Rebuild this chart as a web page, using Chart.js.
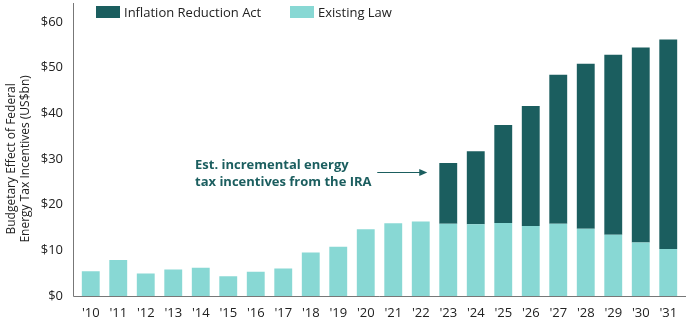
<!DOCTYPE html>
<html>
<head>
<meta charset="utf-8">
<script src="https://cdn.jsdelivr.net/npm/chart.js@4.4.1/dist/chart.umd.min.js"></script>
<style>
  html, body { margin: 0; padding: 0; background: #fff; }
  #wrap { position: relative; width: 690px; height: 321px; font-family: "Open Sans", sans-serif; }
  #c { position: absolute; left: 0; top: 0; }
  .legend { position: absolute; top: 3px; font-size: 13px; color: #222; display: flex; align-items: center; }
  .legend span.box { display: inline-block; width: 24px; height: 12px; margin-right: 4px; }
  .note { position: absolute; left: 195px; top: 156px; font-size: 13px; font-weight: 700; color: #1b5e5f; line-height: 17px; }
</style>
</head>
<body>
<div id="wrap">
  <canvas id="c" width="690" height="321"></canvas>
  <div class="legend" style="left:96px"><span class="box" style="background:#1b5e5f"></span>Inflation Reduction Act</div>
  <div class="legend" style="left:290px"><span class="box" style="background:#88d8d4"></span>Existing Law</div>
  <div class="note">Est. incremental energy<br>tax incentives from the IRA</div>
</div>
<script>
const years = ["'10","'11","'12","'13","'14","'15","'16","'17","'18","'19","'20","'21","'22","'23","'24","'25","'26","'27","'28","'29","'30","'31"];
const existingLaw = [5.4, 7.9, 4.9, 5.8, 6.2, 4.3, 5.3, 6.0, 9.5, 10.8, 14.6, 15.9, 16.3, 15.8, 15.7, 16.0, 15.3, 15.8, 14.7, 13.4, 11.7, 10.3];
const inflationReductionAct = [null, null, null, null, null, null, null, null, null, null, null, null, null, 13.3, 16.0, 21.4, 26.3, 32.6, 36.1, 39.4, 42.7, 45.8];
const yTicks = [0, 10, 20, 30, 40, 50, 60];

const DARK = "#1b5e5f", LIGHT = "#88d8d4";

// axis lines sit a few px outside the bar band, like the original
const axisLines = {
  id: "axisLines",
  afterDraw(chart) {
    const { ctx, chartArea: a } = chart;
    ctx.save();
    ctx.strokeStyle = "#777";
    ctx.lineWidth = 1;
    ctx.beginPath();
    ctx.moveTo(a.left - 3.5, 3);
    ctx.lineTo(a.left - 3.5, a.bottom + 0.5);
    ctx.lineTo(a.right + 4, a.bottom + 0.5);
    ctx.stroke();
    // arrow pointing at the first IRA bar
    const x = chart.scales.x;
    const bx = x.getPixelForValue(13) - 9 - 12;
    const y = 172.5;
    ctx.strokeStyle = DARK;
    ctx.fillStyle = DARK;
    ctx.beginPath();
    ctx.moveTo(bx - 50, y);
    ctx.lineTo(bx - 6, y);
    ctx.stroke();
    ctx.beginPath();
    ctx.moveTo(bx, y);
    ctx.lineTo(bx - 8, y - 3.5);
    ctx.lineTo(bx - 8, y + 3.5);
    ctx.closePath();
    ctx.fill();
    ctx.restore();
  }
};

new Chart(document.getElementById("c"), {
  type: "bar",
  data: {
    labels: years,
    datasets: [
      { label: "Existing Law", data: existingLaw, backgroundColor: LIGHT, stack: "s", barPercentage: 0.65, categoryPercentage: 1 },
      { label: "Inflation Reduction Act", data: inflationReductionAct, backgroundColor: DARK, stack: "s", barPercentage: 0.65, categoryPercentage: 1 }
    ]
  },
  options: {
    responsive: false,
    animation: false,
    layout: { padding: { top: 12, right: 8, left: 0, bottom: 0 } },
    plugins: { legend: { display: false }, tooltip: { enabled: false } },
    scales: {
      x: {
        stacked: true,
        grid: { display: false, drawTicks: false },
        border: { display: false },
        ticks: { color: "#222", font: { family: "Open Sans", size: 13 }, padding: 9, maxRotation: 0, autoSkip: false },
        afterFit: s => { s.height = 25; }
      },
      y: {
        stacked: true,
        min: 0,
        max: 60,
        grid: { display: false, drawTicks: false },
        border: { display: false },
        afterBuildTicks: s => { s.ticks = yTicks.map(v => ({ value: v })); },
        ticks: { color: "#222", font: { family: "Open Sans", size: 13 }, padding: 14, callback: v => "$" + v },
        title: {
          display: true,
          text: ["Budgetary Effect of Federal", "Energy Tax Incentives (US$bn)"],
          color: "#222",
          font: { family: "Open Sans", size: 12, lineHeight: 1.15 },
          padding: { top: 5, bottom: 0 }
        },
        afterFit: s => { s.width = 77; }
      }
    }
  },
  plugins: [axisLines]
});
</script>
</body>
</html>
